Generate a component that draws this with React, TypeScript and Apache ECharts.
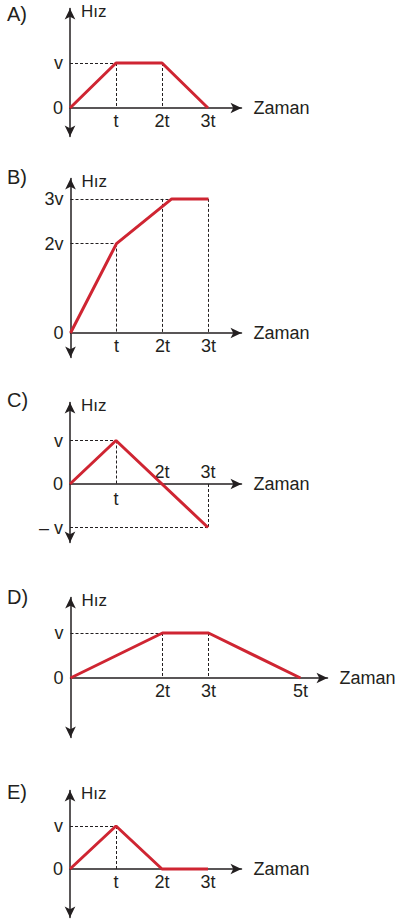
import React, { useEffect, useRef } from 'react';
import * as echarts from 'echarts';

// ---------- data ----------
const panelLetters = ['A)', 'B)', 'C)', 'D)', 'E)'];
const yAxisName = 'Hız';
const xAxisName = 'Zaman';

// A
const aTime = [0, 1, 2, 3];
const aSpeed = [0, 1, 1, 0];
const aXTicks = [1, 2, 3];
const aXLabels = ['t', '2t', '3t'];
const aYTicks = [0, 1];
const aYLabels = ['0', 'v'];
const aGuides = [[[0, 1], [1, 1]], [[1, 1], [1, 0]], [[2, 1], [2, 0]]];

// B
const bTime = [0, 1, 2.2, 3];
const bSpeed = [0, 2, 3, 3];
const bXTicks = [1, 2, 3];
const bXLabels = ['t', '2t', '3t'];
const bYTicks = [0, 2, 3];
const bYLabels = ['0', '2v', '3v'];
const bGuides = [[[0, 2], [1, 2]], [[1, 2], [1, 0]], [[0, 3], [2.2, 3]], [[2, 3], [2, 0]], [[3, 3], [3, 0]]];

// C
const cTime = [0, 1, 3];
const cSpeed = [0, 1, -1];
const cXTicks = [1];
const cXLabels = ['t'];
const cXTopTicks = [2, 3];
const cXTopLabels = ['2t', '3t'];
const cYTicks = [1, 0, -1];
const cYLabels = ['v', '0', '– v'];
const cGuides = [[[0, 1], [1, 1]], [[1, 1], [1, 0]], [[0, -1], [3, -1]], [[3, 0], [3, -1]]];

// D
const dTime = [0, 2, 3, 5];
const dSpeed = [0, 1, 1, 0];
const dXTicks = [2, 3, 5];
const dXLabels = ['2t', '3t', '5t'];
const dYTicks = [0, 1];
const dYLabels = ['0', 'v'];
const dGuides = [[[0, 1], [2, 1]], [[2, 1], [2, 0]], [[3, 1], [3, 0]]];

// E
const eTime = [0, 1, 2, 3];
const eSpeed = [0, 1, 0, 0];
const eXTicks = [1, 2, 3];
const eXLabels = ['t', '2t', '3t'];
const eYTicks = [0, 1];
const eYLabels = ['0', 'v'];
const eGuides = [[[0, 1], [1, 1]], [[1, 1], [1, 0]]];

const panels: any[] = [
  { time: aTime, speed: aSpeed, xTicks: aXTicks, xLabels: aXLabels, yTicks: aYTicks, yLabels: aYLabels, guides: aGuides },
  { time: bTime, speed: bSpeed, xTicks: bXTicks, xLabels: bXLabels, yTicks: bYTicks, yLabels: bYLabels, guides: bGuides },
  { time: cTime, speed: cSpeed, xTicks: cXTicks, xLabels: cXLabels, yTicks: cYTicks, yLabels: cYLabels, guides: cGuides, xTopTicks: cXTopTicks, xTopLabels: cXTopLabels },
  { time: dTime, speed: dSpeed, xTicks: dXTicks, xLabels: dXLabels, yTicks: dYTicks, yLabels: dYLabels, guides: dGuides },
  { time: eTime, speed: eSpeed, xTicks: eXTicks, xLabels: eXLabels, yTicks: eYTicks, yLabels: eYLabels, guides: eGuides },
];

// ---------- layout (pixels) ----------
const layouts = [
  { ox: 70, oy: 108, ux: 46, uy: 45, xTip: 247, yTop: 3, yBot: 142, letterY: 15, xLabelMargin: 4 },
  { ox: 70.5, oy: 333, ux: 46, uy: 44.7, xTip: 247, yTop: 173, yBot: 363, letterY: 178, xLabelMargin: 4 },
  { ox: 70, oy: 484, ux: 46, uy: 43.5, xTip: 247, yTop: 397, yBot: 548, letterY: 401, xLabelMargin: 6 },
  { ox: 70.5, oy: 678, ux: 46, uy: 45, xTip: 333, yTop: 592, yBot: 743, letterY: 598, xLabelMargin: 4 },
  { ox: 70, oy: 869, ux: 46, uy: 43, xTip: 247, yTop: 785, yBot: 923, letterY: 793, xLabelMargin: 4 },
];

const FONT = 'Liberation Sans, Arial, Helvetica, sans-serif';
const RED = '#cf2532';
const INK = '#231f20';
const ARROW_W = 8;
const ARROW_L = 11;

function buildOption() {
  const grids: any[] = [];
  const xAxes: any[] = [];
  const yAxes: any[] = [];
  const series: any[] = [];
  const titles: any[] = [];
  const extraX: any[] = [];

  panels.forEach((p, i) => {
    const L = layouts[i];
    const half = ARROW_L / 2;
    const top = L.yTop + half;
    const bottom = L.yBot - half;
    const width = L.xTip - half - L.ox;
    const height = bottom - top;
    const xMax = width / L.ux;
    const yMax = (L.oy - top) / L.uy;
    const yMin = -(bottom - L.oy) / L.uy;

    grids.push({ left: L.ox, top, width, height, containLabel: false, outerBoundsMode: 'none' });

    titles.push({
      text: panelLetters[i],
      left: 7,
      top: L.letterY - 11,
      padding: 0,
      textStyle: { fontSize: 20, fontWeight: 'normal', color: INK, fontFamily: FONT },
    });

    // ECharts keeps on-zero axis labels at the grid edge; pull them back to the zero line
    const bottomShift = bottom - L.oy;
    const topShift = top - L.oy;

    xAxes.push({
      gridIndex: i,
      type: 'value',
      min: 0,
      max: xMax,
      axisLine: {
        onZero: true,
        symbol: ['none', 'arrow'],
        symbolSize: [ARROW_W, ARROW_L],
        lineStyle: { color: INK, width: 1.5 },
      },
      axisTick: { show: false },
      splitLine: { show: false },
      axisLabel: {
        customValues: p.xTicks,
        formatter: (v: number) => p.xLabels[p.xTicks.indexOf(v)] ?? '',
        fontSize: 18,
        color: INK,
        fontFamily: FONT,
        margin: L.xLabelMargin - bottomShift,
      },
      name: xAxisName,
      nameLocation: 'end',
      nameGap: 12,
      nameTextStyle: { fontSize: 18, color: INK, fontFamily: FONT, align: 'left', verticalAlign: 'middle' },
    });

    if (p.xTopTicks) {
      extraX.push({
        gridIndex: i,
        type: 'value',
        position: 'top',
        min: 0,
        max: xMax,
        axisLine: { show: false, onZero: true, onZeroAxisIndex: i },
        axisTick: { show: false },
        splitLine: { show: false },
        axisLabel: {
          customValues: p.xTopTicks,
          formatter: (v: number) => p.xTopLabels[p.xTopTicks.indexOf(v)] ?? '',
          fontSize: 18,
          color: INK,
          fontFamily: FONT,
          margin: 3 + topShift,
        },
      });
    }

    yAxes.push({
      gridIndex: i,
      type: 'value',
      min: yMin,
      max: yMax,
      axisLine: {
        onZero: false,
        symbol: ['arrow', 'arrow'],
        symbolSize: [ARROW_W, ARROW_L],
        lineStyle: { color: INK, width: 1.5 },
      },
      axisTick: { show: false },
      splitLine: { show: false },
      axisLabel: {
        customValues: p.yTicks,
        formatter: (v: number) => p.yLabels[p.yTicks.indexOf(v)] ?? '',
        fontSize: 18,
        color: INK,
        fontFamily: FONT,
        margin: 7,
      },
      name: yAxisName,
      nameLocation: 'end',
      nameGap: -3,
      nameTextStyle: {
        fontSize: 17,
        color: INK,
        fontFamily: FONT,
        align: 'left',
        verticalAlign: 'middle',
        padding: [0, 0, 0, 11],
      },
    });

    series.push({
      type: 'line',
      xAxisIndex: i,
      yAxisIndex: i,
      data: p.time.map((t: number, k: number) => [t, p.speed[k]]),
      symbol: 'none',
      showSymbol: false,
      clip: false,
      silent: true,
      z: 3,
      lineStyle: { color: RED, width: 3 },
      markLine: {
        silent: true,
        z: 2,
        symbol: ['none', 'none'],
        label: { show: false },
        emphasis: { disabled: true },
        lineStyle: { color: INK, width: 1, type: [3, 2] },
        data: p.guides.map(([a, b]: number[][]) => [{ coord: a }, { coord: b }]),
      },
    });
  });

  return {
    animation: false,
    backgroundColor: '#ffffff',
    title: titles,
    grid: grids,
    xAxis: [...xAxes, ...extraX],
    yAxis: yAxes,
    series,
  };
}

export default function App() {
  const ref = useRef<HTMLDivElement>(null);
  useEffect(() => {
    if (!ref.current) return;
    const chart = echarts.init(ref.current, undefined, { renderer: 'svg' });
    chart.setOption(buildOption() as any);
    return () => chart.dispose();
  }, []);
  return (
    <div
      ref={ref}
      style={{ position: 'fixed', left: 0, top: 0, width: 401, height: 924, background: '#fff' }}
    />
  );
}
